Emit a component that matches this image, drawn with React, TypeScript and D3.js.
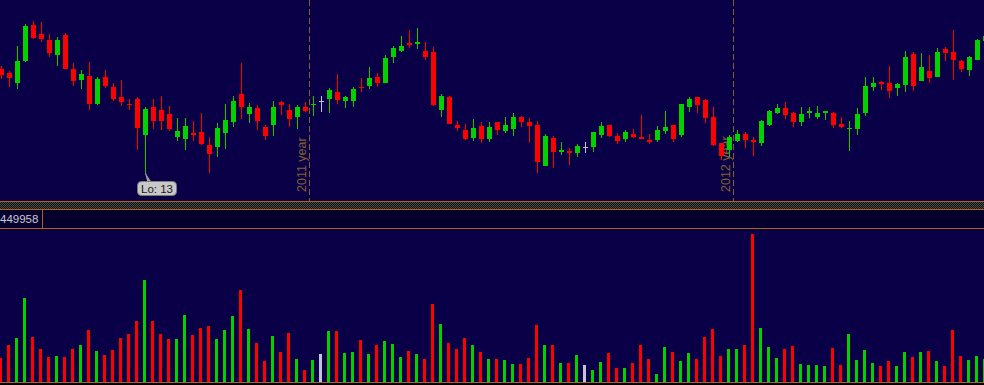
import React from "react";
import * as d3 from "d3";

const opens = [23.4,23.0,22.0,24.2,27.8,26.9,26.3,24.8,26.8,23.4,
22.3,22.7,19.9,22.6,21.6,20.6,19.92,20.4,16.8,19.6,
19.3,18.9,16.6,16.4,17.0,17.1,15.8,15.6,17.0,18.1,
20.9,18.9,19.5,17.6,17.8,20.1,19.3,18.6,19.6,19.9,
20.2,20.4,21.1,20.2,20.2,21.62,21.7,22.6,22.0,24.6,
25.2,26.0,25.9,25.2,25.1,19.3,20.6,17.8,17.3,16.5,
17.7,16.4,18.1,17.2,17.4,18.6,18.1,17.8,13.7,16.5,
15.1,15.2,15.0,15.6,15.6,16.8,17.8,16.7,16.4,16.9,
16.6,16.3,16.3,17.2,17.8,16.8,19.6,20.6,20.3,18.6,
16.0,15.3,16.2,16.9,16.3,16.0,17.8,19.0,19.5,19.0,
18.1,19.0,18.6,19.0,19.0,17.9,17.5,17.4,19.0,21.6,
22.1,22.0,21.5,21.8,24.9,22.2,23.2,22.6,25.4,25.1,
24.2,23.3,24.3,26.2];

const closes = [22.8,22.5,24.2,27.7,26.5,26.4,25.0,26.3,23.4,22.2,
22.9,19.9,22.4,21.7,20.4,20.1,19.9,17.5,19.4,18.2,
18.2,17.4,17.2,17.7,16.8,15.9,14.9,17.5,18.3,20.2,
19.6,19.6,18.2,16.7,19.6,19.8,18.4,19.6,19.2,19.92,
20.2,21.3,20.3,20.6,21.4,21.6,22.5,22.0,24.5,25.5,
25.7,25.8,26.1,24.6,19.8,20.7,17.9,17.5,16.4,17.5,
16.4,17.6,17.3,17.8,18.6,18.1,17.7,14.1,16.7,15.1,
15.3,15.0,15.7,15.6,17.1,17.7,16.7,16.2,17.1,16.6,
16.4,16.1,17.3,17.6,16.4,19.9,20.4,19.8,18.5,15.8,
14.7,16.6,16.9,16.3,16.1,18.2,19.2,19.5,18.8,18.1,
18.9,19.2,19.0,19.2,17.8,17.6,17.52,18.9,21.7,22.0,
21.9,21.2,21.9,24.6,21.7,23.6,22.5,25.1,25.0,24.3,
23.4,24.6,26.3,26.7];

const highs = [23.7,23.2,25.7,27.9,28.2,28.1,26.9,26.6,27.0,24.0,
23.3,24.1,22.6,23.3,22.0,22.3,20.4,20.6,19.6,20.4,
20.7,19.7,18.5,18.5,18.2,19.0,16.6,18.0,19.9,20.7,
24.0,20.0,19.8,17.8,20.2,20.2,19.9,19.8,20.1,20.7,
20.7,21.5,22.9,20.7,21.6,22.5,23.6,23.0,24.8,25.7,
26.7,27.3,27.5,26.1,25.6,20.9,20.7,18.2,17.9,18.4,
18.1,18.1,18.1,18.6,19.0,18.7,18.5,18.2,16.9,16.7,
16.1,15.5,15.9,16.1,17.1,18.1,17.8,17.0,17.3,17.4,
18.8,16.9,17.7,19.2,17.8,19.9,20.6,20.6,20.4,19.6,
16.0,16.8,17.3,17.1,16.6,18.3,19.3,19.9,20.1,19.1,
19.6,19.6,19.7,19.2,19.1,18.6,18.2,19.5,22.6,22.6,
22.2,23.7,22.0,25.2,25.1,25.0,24.8,25.5,25.6,27.3,
24.3,24.7,26.4,26.9];

const lows = [22.4,21.6,21.4,24.1,26.4,26.1,24.6,23.7,23.4,21.7,
21.4,19.3,19.8,21.5,20.2,19.7,19.3,15.3,13.0,17.4,
17.3,17.2,16.2,15.3,16.2,15.8,13.0,14.6,15.4,17.6,
18.4,18.0,17.3,16.3,16.7,18.8,17.6,17.4,19.1,18.7,
19.1,19.0,19.9,19.5,19.6,21.1,21.4,21.6,22.0,24.0,
25.1,25.5,25.4,24.3,19.7,18.6,17.9,17.2,16.3,16.2,
16.0,16.1,16.8,17.0,16.7,17.6,16.0,13.0,13.7,13.5,
14.8,13.8,14.6,15.0,15.1,16.5,16.6,15.9,16.1,16.5,
16.4,15.9,16.1,16.9,16.1,16.6,19.1,19.0,18.0,15.7,
14.3,14.6,16.1,15.5,14.7,15.7,17.7,18.9,18.4,17.6,
17.7,18.5,18.4,18.3,17.5,17.5,15.2,16.8,18.7,21.2,
21.3,20.5,20.7,21.1,21.2,22.2,22.0,22.6,24.2,22.3,
23.1,22.7,24.3,26.0];

const volumes = [72000,111000,135000,255000,138000,99000,75000,78000,75000,99000,
114000,159000,93000,81000,96000,135000,147000,186000,309000,186000,
147000,132000,132000,204000,144000,165000,171000,132000,159000,201000,
279000,162000,120000,63000,141000,90000,150000,69000,36000,66000,
84000,156000,156000,87000,90000,129000,84000,111000,126000,117000,
75000,93000,84000,69000,237000,177000,120000,99000,135000,111000,
90000,69000,69000,66000,54000,54000,72000,174000,111000,111000,
57000,57000,81000,51000,36000,60000,87000,42000,42000,57000,
114000,69000,24000,105000,90000,63000,87000,69000,138000,162000,
78000,99000,99000,111000,449958,165000,105000,72000,99000,108000,
54000,51000,51000,48000,102000,51000,147000,66000,96000,57000,
48000,63000,48000,90000,75000,90000,93000,63000,48000,159000,
78000,66000,78000,69000];

const yearLabels = ["2011 year", "2012 year"];
const yearStartIndex = [39, 92];

const BG = "#0a0048";
const GREEN = "#00d200";
const RED = "#ff0000";
const GREY = "#c4c4d4";
const ORANGE = "#a86818";
const YEARC = "#84602e";

export default function App() {
  const W = 984, H = 385;
  const n = opens.length;
  const x = d3.scaleLinear().domain([0, n - 1]).range([1.5, 1.5 + 8 * (n - 1)]);
  const minLow = d3.min(lows) as number;
  const maxHigh = d3.max(highs) as number;
  const y = d3.scaleLinear().domain([minLow, maxHigh]).range([173, 21]);
  const maxVol = d3.max(volumes) as number;
  const yv = d3.scaleLinear().domain([0, maxVol]).range([382, 234]);
  const color = (i: number) =>
    closes[i] > opens[i] ? GREEN : closes[i] < opens[i] ? RED : GREY;
  const loIdx = lows.indexOf(minLow);
  const lx = x(loIdx);
  const ly = y(minLow);

  return (
    <svg width={W} height={H} style={{ position: "fixed", left: 0, top: 0, display: "block" }}
      fontFamily="'Liberation Sans', Arial, sans-serif">
      <defs>
        <pattern id="chk" width="2" height="2" patternUnits="userSpaceOnUse">
          <rect width="2" height="2" fill="#101010" />
          <rect width="1" height="1" fill="#4a4a4a" />
          <rect x="1" y="1" width="1" height="1" fill="#4a4a4a" />
        </pattern>
      </defs>
      <rect width={W} height={H} fill="#000" />
      <rect x={0} y={0} width={W} height={201} fill={BG} />
      <rect x={0} y={229} width={W} height={153} fill={BG} />
      {/* separators */}
      <rect x={0} y={201} width={W} height={1} fill={ORANGE} />
      <rect x={0} y={202} width={W} height={7} fill="url(#chk)" />
      <rect x={0} y={209} width={W} height={1} fill={ORANGE} />
      <rect x={0} y={210} width={W} height={18} fill="#06002c" />
      <rect x={0} y={228} width={W} height={1} fill={ORANGE} />
      <rect x={42} y={209} width={1} height={20} fill={ORANGE} />
      <rect x={0} y={382} width={W} height={1} fill={ORANGE} />
      <text x={0} y={223} fontSize={11.5} fill="#c8c8d8">{maxVol}</text>

      {/* year marks */}
      {yearStartIndex.map((idx, k) => {
        const lxp = x(idx) - 4;
        return (
          <g key={k}>
            <line x1={lxp} x2={lxp} y1={0} y2={201} stroke={YEARC} strokeWidth={1} strokeDasharray="6,3" />
            <text transform={`translate(${lxp - 3.5},192) rotate(-90)`} fontSize={12.5} fill={YEARC}>
              {yearLabels[k]}
            </text>
          </g>
        );
      })}

      {/* candles */}
      <g shapeRendering="crispEdges">
        {opens.map((o, i) => {
          const c = closes[i];
          const cx = x(i);
          const top = Math.min(y(o), y(c));
          const h = Math.max(1, Math.abs(y(o) - y(c)));
          const col = color(i);
          return (
            <g key={i}>
              <rect x={cx - 0.5} y={y(highs[i])} width={1} height={y(lows[i]) - y(highs[i])} fill={col} />
              <rect x={cx - 2.5} y={top} width={5} height={h} fill={col} />
            </g>
          );
        })}
        {volumes.map((v, i) => (
          <rect key={i} x={x(i) - 2.5} y={yv(v)} width={3} height={382 - yv(v)} fill={color(i)} />
        ))}
      </g>

      {/* Lo label */}
      <path d={`M${lx - 0.5},${ly} L${lx + 2},${ly + 9} L${lx + 6},${ly + 9} Z`} fill="#b8b8b8" />
      <line x1={lx} y1={ly} x2={lx + 4} y2={ly + 9} stroke="#909090" strokeWidth={1} />
      <rect x={137.5} y={181.5} width={39} height={14} rx={4} fill="#c8c8c8" stroke="#7a7a7a" />
      <text x={157} y={192.5} fontSize={11.5} textAnchor="middle" fill="#1a1a1a">{`Lo: ${minLow}`}</text>
    </svg>
  );
}
